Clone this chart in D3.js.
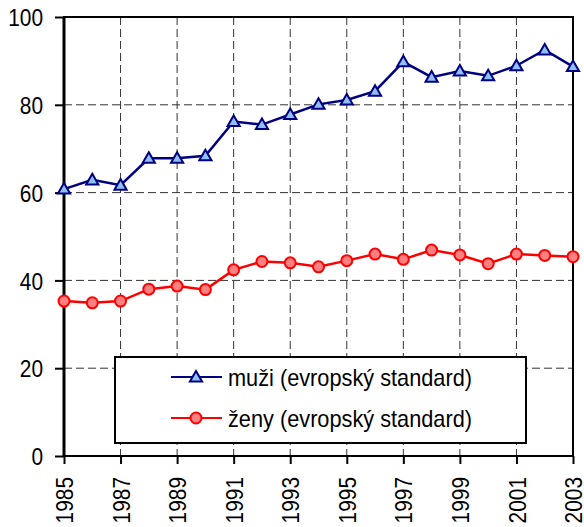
<!DOCTYPE html>
<html>
<head>
<meta charset="utf-8">
<script src="https://cdn.jsdelivr.net/npm/d3@7"></script>
<style>
  body { margin: 0; background: #fff; }
  svg { display: block; font-family: "Liberation Sans", Arial, sans-serif; }
</style>
</head>
<body>
<div id="chart"></div>
<script>
// data
var years = [1985, 1986, 1987, 1988, 1989, 1990, 1991, 1992, 1993, 1994,
             1995, 1996, 1997, 1998, 1999, 2000, 2001, 2002, 2003];
var muzi = [60.8, 62.9, 61.7, 67.8, 67.8, 68.4, 76.2, 75.5, 77.8, 80.1,
            81.1, 83.1, 89.8, 86.3, 87.7, 86.6, 88.9, 92.5, 88.7];
var zeny = [35.3, 34.9, 35.3, 38.0, 38.7, 37.9, 42.4, 44.3, 44.0, 43.1,
            44.5, 46.0, 44.8, 46.9, 45.8, 43.8, 46.0, 45.7, 45.4];
var yTicks = [0, 20, 40, 60, 80, 100];
var xTicks = [1985, 1987, 1989, 1991, 1993, 1995, 1997, 1999, 2001, 2003];
var seriesNames = ["muži (evropský standard)", "ženy (evropský standard)"];

var width = 584, height = 527;
var margin = { top: 17, right: 11, bottom: 71, left: 64 };
var w = width - margin.left - margin.right;
var h = height - margin.top - margin.bottom;
var squeeze = 0.87; // the original font is a bit narrower than Liberation Sans

var svg = d3.select("#chart").append("svg")
  .attr("width", width)
  .attr("height", height);

var g = svg.append("g")
  .attr("transform", "translate(" + margin.left + "," + margin.top + ")");

var x = d3.scaleLinear().domain([1985, 2003]).range([0, w]);
var y = d3.scaleLinear().domain([0, 100]).range([h, 0]);

// grid
g.selectAll(".hgrid")
  .data(yTicks.filter(function(d) { return d > 0 && d < 100; }))
  .enter().append("line")
  .attr("x1", 0).attr("x2", w)
  .attr("y1", function(d) { return y(d); })
  .attr("y2", function(d) { return y(d); })
  .attr("stroke", "#333").attr("stroke-width", 1)
  .attr("stroke-dasharray", "8,4");

g.selectAll(".vgrid")
  .data(xTicks.filter(function(d) { return d > 1985 && d < 2003; }))
  .enter().append("line")
  .attr("x1", function(d) { return x(d); })
  .attr("x2", function(d) { return x(d); })
  .attr("y1", 0).attr("y2", h)
  .attr("stroke", "#333").attr("stroke-width", 1)
  .attr("stroke-dasharray", "8,4");

// frame
g.append("rect")
  .attr("width", w).attr("height", h)
  .attr("fill", "none").attr("stroke", "#000").attr("stroke-width", 2);
g.append("line")
  .attr("x1", 0).attr("x2", 0).attr("y1", 0).attr("y2", h)
  .attr("stroke", "#000").attr("stroke-width", 3);

// y axis
var yAxis = g.append("g")
  .call(d3.axisLeft(y).tickValues(yTicks).tickSize(9).tickFormat(d3.format("d")));
yAxis.select(".domain").remove();
yAxis.selectAll("line").attr("stroke", "#000").attr("stroke-width", 2);
yAxis.selectAll("text")
  .attr("font-size", 24).attr("fill", "#000")
  .attr("font-family", "Liberation Sans, Arial, sans-serif")
  .attr("x", 0).attr("dy", "0.36em")
  .attr("transform", "translate(-21,0) scale(" + squeeze + ",1)");

// x axis
var xAxis = g.append("g")
  .attr("transform", "translate(0," + h + ")")
  .call(d3.axisBottom(x).tickValues(xTicks).tickSize(8).tickFormat(d3.format("d")));
xAxis.select(".domain").remove();
xAxis.selectAll("line").attr("stroke", "#000").attr("stroke-width", 2);
xAxis.selectAll("text")
  .attr("font-size", 24).attr("fill", "#000")
  .attr("font-family", "Liberation Sans, Arial, sans-serif")
  .attr("text-anchor", "end")
  .attr("transform", "rotate(-90) scale(" + squeeze + ",1)")
  .attr("x", -21 / squeeze).attr("y", 0).attr("dy", "0.36em");

// lines
var line = d3.line()
  .x(function(d, i) { return x(years[i]); })
  .y(function(d) { return y(d); });

var triangle = d3.symbol().type(d3.symbolTriangle).size(64);

g.append("path").datum(muzi)
  .attr("d", line).attr("fill", "none")
  .attr("stroke", "#000080").attr("stroke-width", 2.5);
g.selectAll(".tri").data(muzi).enter().append("path")
  .attr("d", triangle)
  .attr("transform", function(d, i) { return "translate(" + x(years[i]) + "," + (y(d) + 1) + ")"; })
  .attr("fill", "#8ec0f5").attr("stroke", "#000080").attr("stroke-width", 2);

g.append("path").datum(zeny)
  .attr("d", line).attr("fill", "none")
  .attr("stroke", "#ff0000").attr("stroke-width", 2.5);
g.selectAll(".dot").data(zeny).enter().append("circle")
  .attr("cx", function(d, i) { return x(years[i]); })
  .attr("cy", function(d) { return y(d); })
  .attr("r", 5.5)
  .attr("fill", "#ff8080").attr("stroke", "#ff0000").attr("stroke-width", 2);

// legend
var legend = svg.append("g").attr("transform", "translate(115,357)");
legend.append("rect")
  .attr("width", 411).attr("height", 86)
  .attr("fill", "#fff").attr("stroke", "#000").attr("stroke-width", 2);

var rows = [
  { name: seriesNames[0], color: "#000080", y: 20 },
  { name: seriesNames[1], color: "#ff0000", y: 61 }
];
rows.forEach(function(r, k) {
  var row = legend.append("g").attr("transform", "translate(0," + r.y + ")");
  row.append("line")
    .attr("x1", 56).attr("x2", 107)
    .attr("stroke", r.color).attr("stroke-width", 2);
  if (k === 0) {
    row.append("path").attr("d", triangle)
      .attr("transform", "translate(81,1)")
      .attr("fill", "#8ec0f5").attr("stroke", "#000080").attr("stroke-width", 2);
  } else {
    row.append("circle").attr("cx", 81).attr("r", 5.5)
      .attr("fill", "#ff8080").attr("stroke", "#ff0000").attr("stroke-width", 2);
  }
  row.append("text")
    .attr("x", 113).attr("dy", "0.36em")
    .attr("font-size", 24)
    .attr("textLength", 244).attr("lengthAdjust", "spacingAndGlyphs")
    .text(r.name);
});
</script>
</body>
</html>
